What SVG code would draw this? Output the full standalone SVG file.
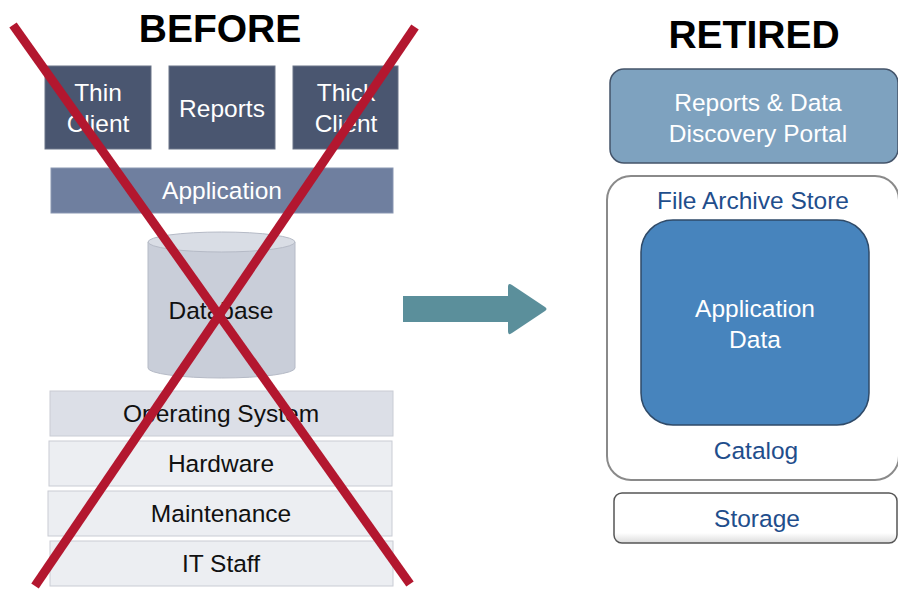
<svg xmlns="http://www.w3.org/2000/svg" width="898" height="590" viewBox="0 0 898 590">
<defs>
<style>
text{font-family:"Liberation Sans",Arial,sans-serif;text-anchor:middle}
.title{font-size:39px;font-weight:bold;fill:#000}
.w{font-size:24.5px;fill:#fff}
.k{font-size:24.5px;fill:#111}
.b{font-size:24.5px;fill:#1f4e8c}
.dark{fill:#4a5670;stroke:#6a7488;stroke-width:1}
.layer{stroke:#c9ccd4;stroke-width:1}
</style>
<linearGradient id="gStore" x1="0" y1="0" x2="0" y2="1"><stop offset="0" stop-color="#ffffff"/><stop offset="0.8" stop-color="#ffffff"/><stop offset="1" stop-color="#dcdcdc"/></linearGradient>
</defs>
<rect width="898" height="590" fill="#fff"/>
<text class="title" x="220" y="42">BEFORE</text>
<text class="title" x="754" y="48">RETIRED</text>

<g id="thin-client"><rect class="dark" x="45" y="66" width="106" height="83"/><text class="w" x="98" y="101">Thin</text><text class="w" x="98" y="132">Client</text></g>
<g id="reports"><rect class="dark" x="169" y="66" width="106" height="83"/><text class="w" x="222" y="117">Reports</text></g>
<g id="thick-client"><rect class="dark" x="293" y="66" width="105" height="83"/><text class="w" x="346" y="101">Thick</text><text class="w" x="346" y="132">Client</text></g>
<g id="application"><rect x="51" y="168" width="342" height="45" fill="#6f7f9f" stroke="#8a97b2"/><text class="w" x="222" y="199">Application</text></g>
<g id="database"><path d="M148,242 V368 A73.5,10 0 0 0 295,368 V242" fill="#c9ced9" stroke="#b5bac6"/><ellipse cx="221.5" cy="242" rx="73.5" ry="10" fill="#d9dde5" stroke="#b5bac6"/><text class="k" x="221" y="319">Database</text></g>
<g id="os"><rect class="layer" x="50" y="391" width="343" height="45" fill="#dcdfe7"/><text class="k" x="221" y="422">Operating System</text></g>
<g id="hardware"><rect class="layer" x="49" y="441" width="343" height="45" fill="#eceef2"/><text class="k" x="221" y="472">Hardware</text></g>
<g id="maintenance"><rect class="layer" x="48" y="491" width="344" height="45" fill="#eceef2"/><text class="k" x="221" y="522">Maintenance</text></g>
<g id="it-staff"><rect class="layer" x="50" y="541" width="343" height="45" fill="#eceef2"/><text class="k" x="221" y="572">IT Staff</text></g>

<g id="cross" stroke="#b3172f" stroke-width="9" stroke-linecap="butt">
<line x1="13" y1="25" x2="410" y2="584"/>
<line x1="415" y1="27" x2="35" y2="586"/>
</g>

<g id="connectors">
<path d="M403,296 H508 V287 Q508,282 512,285 L545,307 Q548,309 545,311 L512,333 Q508,336 508,331 V322 H403 Z" fill="#5b8f9b"/>
</g>

<g id="portal"><rect x="610" y="69" width="288" height="94" rx="14" fill="#7ea2bf" stroke="#44546a" stroke-width="1.5"/><text class="w" x="758" y="111">Reports &amp; Data</text><text class="w" x="758" y="142">Discovery Portal</text></g>
<g id="file-archive-store"><rect x="607" y="176" width="292" height="304" rx="24" fill="#fff" stroke="#8a8a8a" stroke-width="2"/><text class="b" x="753" y="209">File Archive Store</text><text class="b" x="756" y="459">Catalog</text></g>
<g id="application-data"><rect x="641" y="220" width="228" height="205" rx="32" fill="#4784bd" stroke="#2f4a68" stroke-width="1.5"/><text class="w" x="755" y="317">Application</text><text class="w" x="755" y="348">Data</text></g>
<g id="storage"><rect x="614" y="493" width="283" height="50" rx="8" fill="url(#gStore)" stroke="#555" stroke-width="1.5"/><text class="b" x="757" y="527">Storage</text></g>
</svg>
